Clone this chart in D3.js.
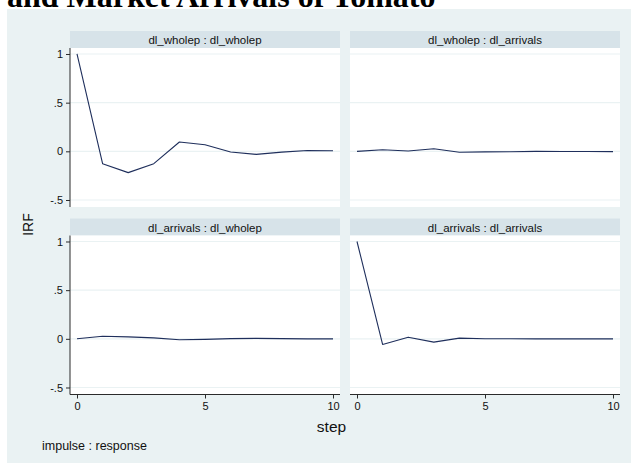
<!DOCTYPE html>
<html>
<head>
<meta charset="utf-8">
<script src="https://cdn.jsdelivr.net/npm/d3@7"></script>
<style>
  html, body { margin: 0; padding: 0; background: #ffffff; }
  svg { display: block; }
  text { font-family: "Liberation Sans", Arial, Helvetica, sans-serif; }
</style>
</head>
<body>
<div id="chart"></div>
<script>
// ---- data ----
const steps = [0, 1, 2, 3, 4, 5, 6, 7, 8, 9, 10];
const panelTitles = ["dl_wholep : dl_wholep", "dl_wholep : dl_arrivals",
                     "dl_arrivals : dl_wholep", "dl_arrivals : dl_arrivals"];
const wholepWholep   = [1, -0.127, -0.219, -0.127, 0.096, 0.068, -0.007, -0.031, -0.008, 0.008, 0.006];
const wholepArrivals = [0, 0.016, 0.003, 0.026, -0.010, -0.006, -0.004, -0.001, -0.002, -0.002, -0.003];
const arrivalsWholep = [0, 0.027, 0.020, 0.010, -0.010, -0.006, 0.002, 0.005, 0.002, 0.000, 0.000];
const arrivalsArrivals = [1, -0.058, 0.017, -0.034, 0.007, 0.001, 0.001, 0.000, 0.000, 0.000, 0.000];
const yTicks = [-0.5, 0, 0.5, 1];
const yTickLabels = ["-.5", "0", ".5", "1"];
const xTicks = [0, 5, 10];
const titleText = "and Market Arrivals of Tomato";
const yTitle = "IRF";
const xTitle = "step";
const noteText = "impulse : response";

const seriesList = [wholepWholep, wholepArrivals, arrivalsWholep, arrivalsArrivals];

// ---- layout ----
const W = 631, H = 463;
const colX = [70, 350];
const rowY = [31, 218.5];
const panelW = 270;
const headerH = 17;
const plotH = 159;

const bg = "#EAF2F3";
const stripFill = "#D7E3E9";
const lineColor = "#1f2f5c";
const axisColor = "#2b2b2b";

const svg = d3.select("#chart").append("svg")
  .attr("width", W).attr("height", H);

svg.append("rect").attr("x", 0).attr("y", 0).attr("width", W).attr("height", H).attr("fill", "#fff");
svg.append("rect").attr("x", 7).attr("y", 9).attr("width", W - 7).attr("height", H - 9).attr("fill", bg);

// title (cropped at top)
svg.append("text")
  .attr("x", 7).attr("y", 7)
  .attr("font-family", "'Liberation Serif', 'Times New Roman', serif")
  .style("font-family", "'Liberation Serif', 'Times New Roman', serif")
  .attr("font-weight", "bold")
  .attr("font-size", 32)
  .attr("fill", "#000")
  .text(titleText);

const x = d3.scaleLinear().domain([0, 10]).range([7, panelW - 7]);
const y = d3.scaleLinear().domain([-0.572, 1.0616]).range([plotH, 0]);

seriesList.forEach((vals, i) => {
  const r = Math.floor(i / 2), c = i % 2;
  const g = svg.append("g").attr("transform", `translate(${colX[c]},${rowY[r]})`);

  // header strip
  g.append("rect").attr("x", 0).attr("y", 0).attr("width", panelW).attr("height", headerH)
    .attr("fill", stripFill);
  g.append("text").attr("x", panelW / 2).attr("y", 13)
    .attr("text-anchor", "middle").attr("font-size", 11.5).attr("fill", "#111")
    .text(panelTitles[i]);

  const p = g.append("g").attr("transform", `translate(0,${headerH})`);
  p.append("rect").attr("x", 0).attr("y", 0).attr("width", panelW).attr("height", plotH)
    .attr("fill", "#fff");

  // gridlines
  p.selectAll("line.grid").data(yTicks).enter().append("line")
    .attr("class", "grid")
    .attr("x1", 0).attr("x2", panelW)
    .attr("y1", d => y(d)).attr("y2", d => y(d))
    .attr("stroke", bg).attr("stroke-width", 1.2);

  // series line
  const line = d3.line().x((d, k) => x(steps[k])).y(d => y(d));
  p.append("path").datum(vals)
    .attr("d", line)
    .attr("fill", "none")
    .attr("stroke", lineColor)
    .attr("stroke-width", 1.1)
    .attr("stroke-linejoin", "round");

  // y axis on left column
  if (c === 0) {
    const ay = p.append("g").call(
      d3.axisLeft(y).tickValues(yTicks).tickSize(4).tickPadding(3)
        .tickFormat((d, k) => yTickLabels[k])
    );
    ay.select(".domain").attr("d", `M0,0V${plotH}`).attr("stroke", axisColor);
    ay.selectAll(".tick line").attr("stroke", axisColor);
    ay.selectAll(".tick text").attr("font-size", 11).attr("fill", "#111")
      .attr("font-family", null);
  }
  // x axis on bottom row
  if (r === 1) {
    const ax = p.append("g").attr("transform", `translate(0,${plotH})`).call(
      d3.axisBottom(x).tickValues(xTicks).tickSize(4).tickPadding(4)
        .tickFormat(d3.format("d"))
    );
    ax.select(".domain").attr("d", `M0,0H${panelW}`).attr("stroke", axisColor);
    ax.selectAll(".tick line").attr("stroke", axisColor);
    ax.selectAll(".tick text").attr("font-size", 11).attr("fill", "#111")
      .attr("font-family", null);
  }
});

// axis titles
svg.append("text")
  .attr("transform", "translate(33,224.5) rotate(-90)")
  .attr("text-anchor", "middle").attr("font-size", 14).attr("fill", "#111")
  .text(yTitle);

svg.append("text")
  .attr("x", 331.5).attr("y", 432)
  .attr("text-anchor", "middle").attr("font-size", 15.5).attr("fill", "#111")
  .text(xTitle);

svg.append("text")
  .attr("x", 42).attr("y", 449.5)
  .attr("font-size", 12.5).attr("fill", "#111")
  .text(noteText);
</script>
</body>
</html>
